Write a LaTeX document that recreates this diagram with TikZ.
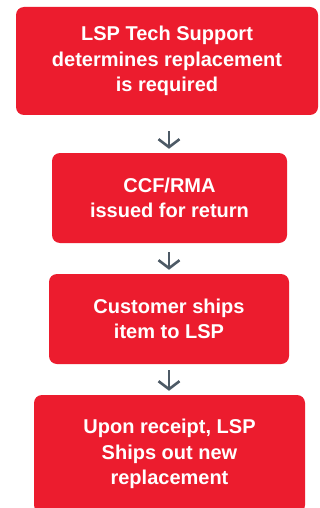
\documentclass[tikz,border=0pt]{standalone}
\usepackage{fontspec}
\setmainfont{Liberation Sans}
\usetikzlibrary{arrows.meta}
\definecolor{boxred}{RGB}{236,28,46}
\definecolor{arrgray}{RGB}{77,90,102}
\begin{document}
\begin{tikzpicture}[x=1pt,y=-1pt,
  stepbox/.style={draw=none, fill=boxred, rounded corners=8pt, text=white,
    font=\fontsize{20}{25.5}\selectfont\bfseries, align=center, inner sep=0pt},
  flowarr/.style={draw=arrgray, line width=2.6pt,
    -{Straight Barb[length=8pt,width=21pt]}, shorten >=4pt}]
\useasboundingbox (0,0) rectangle (320,508);
\fill[white] (0,0) rectangle (320,508);
\node[stepbox, minimum width=302pt, minimum height=108pt] (b1) at (167,61)
  {LSP Tech Support\\determines replacement\\is required};
\node[stepbox, minimum width=235pt, minimum height=90pt] (b2) at (169.5,198)
  {CCF/RMA\\issued for return};
\node[stepbox, minimum width=240pt, minimum height=90pt] (b3) at (169,319)
  {Customer ships\\item to LSP};
\node[stepbox, minimum width=271pt, minimum height=118pt] (b4) at (169.5,454)
  {Upon receipt, LSP\\Ships out new\\replacement};
\coordinate (ax) at (169,0);
\draw[flowarr, shorten <=16pt] (b1.south -| ax) -- (b2.north -| ax);
\draw[flowarr, shorten <=9pt] (b2.south -| ax) -- (b3.north -| ax);
\draw[flowarr, shorten <=6pt] (b3.south -| ax) -- (b4.north -| ax);
\end{tikzpicture}
\end{document}
